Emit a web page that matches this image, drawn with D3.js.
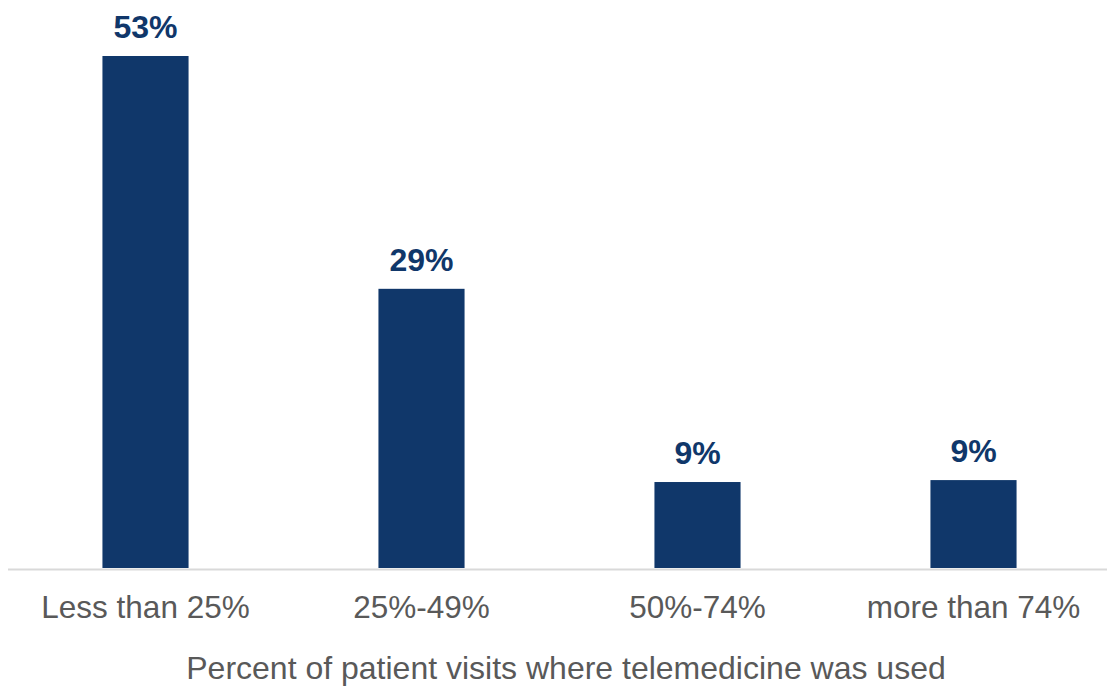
<!DOCTYPE html>
<html>
<head>
<meta charset="utf-8">
<script src="https://cdn.jsdelivr.net/npm/d3@7"></script>
<style>
	body { margin: 0; background: #fff; }
	text { font-family: "Liberation Sans", Arial, sans-serif; }
</style>
</head>
<body>
<div id="chart-area"></div>
<script>
var categories = ["Less than 25%", "25%-49%", "50%-74%", "more than 74%"];
var values = [53, 28.9, 8.9, 9.1];
var axisTitle = "Percent of patient visits where telemedicine was used";

var width = 1107;
var height = 687;
var baseline = 568;

var svg = d3.select("#chart-area")
	.append("svg")
		.attr("width", width)
		.attr("height", height);

var x = d3.scaleBand()
	.domain(categories)
	.range([7.5, 1111.5])
	.paddingInner(0.688)
	.paddingOuter(0.344);

var y = d3.scaleLinear()
	.domain([0, 53])
	.range([baseline, 56]);

var data = categories.map(function(c, i) { return {cat: c, val: values[i]}; });

// bars
svg.selectAll("rect.bar").data(data).enter()
	.append("rect")
		.attr("class", "bar")
		.attr("x", (d) => x(d.cat))
		.attr("y", (d) => y(d.val))
		.attr("width", x.bandwidth())
		.attr("height", (d) => baseline - y(d.val))
		.attr("fill", "#10376a");

// baseline axis
var bottomAxis = d3.axisBottom(x).tickSize(0).tickPadding(0);
var ax = svg.append("g")
	.attr("class", "bottom axis")
	.attr("transform", "translate(0," + (baseline + 1) + ")")
	.call(bottomAxis);
ax.select(".domain")
	.attr("stroke", "#d9d9d9")
	.attr("stroke-width", 2);
ax.selectAll("text")
	.attr("y", 49)
	.attr("dy", null)
	.attr("font-size", "31.5px")
	.attr("font-family", "Liberation Sans, Arial, sans-serif")
	.attr("fill", "#595959");

// value labels
svg.selectAll("text.value").data(data).enter()
	.append("text")
		.attr("class", "value")
		.attr("x", (d) => x(d.cat) + x.bandwidth() / 2)
		.attr("y", (d) => y(d.val) - 18)
		.attr("text-anchor", "middle")
		.attr("font-size", "32px")
		.attr("font-weight", "bold")
		.attr("fill", "#10376a")
		.text((d) => Math.round(d.val) + "%");

// axis title
svg.append("text")
	.attr("x", 566)
	.attr("y", 679)
	.attr("text-anchor", "middle")
	.attr("font-size", "32px")
	.attr("fill", "#595959")
	.text(axisTitle);
</script>
</body>
</html>
